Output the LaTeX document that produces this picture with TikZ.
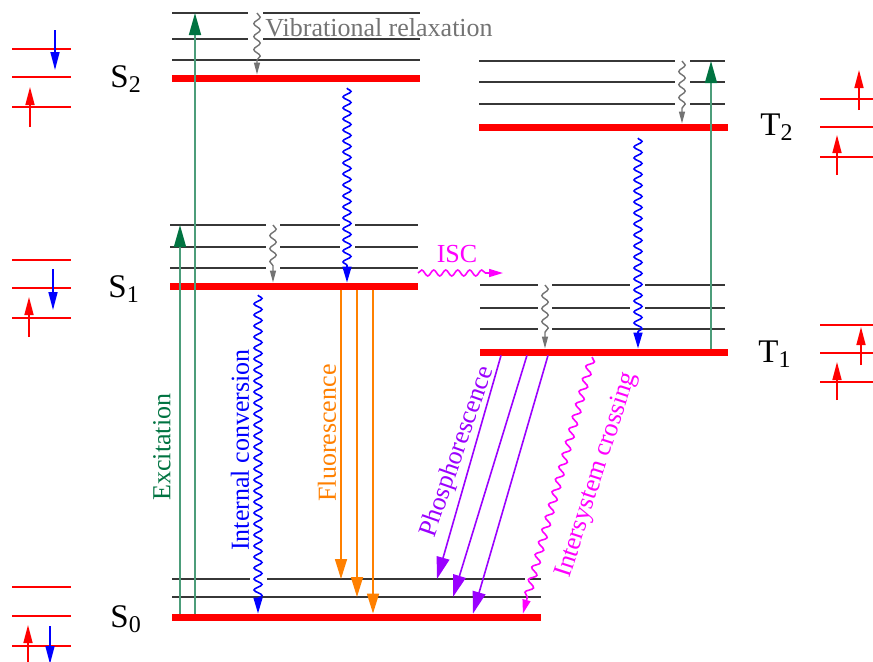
\documentclass[tikz,border=0pt]{standalone}
\usepackage{fontspec}
\setmainfont{Liberation Serif}
\usetikzlibrary{arrows.meta,decorations.pathmorphing,calc}

\definecolor{levelgray}{RGB}{55,55,55}
\definecolor{vibgray}{RGB}{115,115,115}
\definecolor{excgreen}{RGB}{0,115,65}
\definecolor{icblue}{RGB}{0,0,255}
\definecolor{fluoorange}{RGB}{255,128,0}
\definecolor{phosviolet}{RGB}{155,0,255}
\definecolor{iscmagenta}{RGB}{255,0,255}
\colorlet{zerored}{red}

\newcommand{\jlevel}[2]{#1\raisebox{-2.5pt}{\fontsize{12}{12}\selectfont #2}}

\tikzset{
  sublevel/.style={draw=levelgray, line width=1pt},
  zerolevel/.style={draw=zerored, line width=3.5pt},
  orbital/.style={draw=zerored, line width=0.8pt},
  spinup/.style={draw=zerored, line width=0.8pt, -{Triangle[length=9pt,width=4.5pt]}},
  spindown/.style={draw=icblue, line width=0.8pt, -{Triangle[length=9pt,width=4.5pt]}},
  excite/.style={draw=excgreen!70, line width=0.8pt,
    -{Triangle[length=11pt,width=6pt,color=excgreen]}},
  fluor/.style={draw=fluoorange, line width=0.8pt, -{Triangle[length=10pt,width=6pt]}},
  phos/.style={draw=phosviolet, line width=0.8pt, -{Triangle[length=11pt,width=6.5pt]}},
  relax/.style={draw=vibgray, line width=0.7pt, -{Triangle[length=6pt,width=3pt]},
    decorate, decoration={snake, amplitude=1.6pt, segment length=6.5pt, post length=7pt}},
  convert/.style={draw=icblue, line width=0.8pt, -{Triangle[length=8pt,width=4.5pt]},
    decorate, decoration={snake, amplitude=2pt, segment length=5.5pt, post length=9pt}},
  crossing/.style={draw=iscmagenta, line width=0.8pt, -{Triangle[length=7pt,width=4pt]},
    decorate, decoration={snake, amplitude=1.8pt, segment length=6.5pt, post length=8pt}},
  proclabel/.style={font=\fontsize{13}{15}\selectfont, inner sep=0pt},
  statelabel/.style={font=\fontsize{16.5}{18}\selectfont, inner sep=0pt, anchor=base west},
}

\begin{document}
\begin{tikzpicture}[x=0.5pt, y=-0.5pt]
  \useasboundingbox (0,0) rectangle (873,661);

  % left ends of the levels: zero-point (red) line and its vibrational sublevels
  \coordinate (S2v3) at (172,13);  \coordinate (S2v2) at (172,39);
  \coordinate (S2v1) at (172,60);  \coordinate (S2)   at (172,78);
  \coordinate (S1v3) at (170,225); \coordinate (S1v2) at (170,247);
  \coordinate (S1v1) at (170,268); \coordinate (S1)   at (170,286);
  \coordinate (S0v2) at (172,579); \coordinate (S0v1) at (172,597);
  \coordinate (S0)   at (172,617);
  \coordinate (T2v3) at (479,61);  \coordinate (T2v2) at (479,82);
  \coordinate (T2v1) at (479,104); \coordinate (T2)   at (479,127);
  \coordinate (T1v3) at (480,285); \coordinate (T1v2) at (480,308);
  \coordinate (T1v1) at (480,329); \coordinate (T1)   at (480,352);

  % singlet levels (gaps where the wavy arrows pass)
  \foreach \v in {S2v3,S2v2}
    \draw[sublevel] (\v) -- +(76,0) +(91,0) -- +(248,0);
  \draw[sublevel] (S2v1) -- +(248,0);
  \draw[zerolevel] (S2) -- +(248,0);
  \foreach \v in {S1v3,S1v2}
    \draw[sublevel] (\v) -- +(96,0) +(110,0) -- +(170,0) +(185,0) -- +(248,0);
  \draw[sublevel] (S1v1) -- +(96,0) +(110,0) -- +(248,0);
  \draw[zerolevel] (S1) -- +(248,0);
  \draw[sublevel] (S0v2) -- +(78,0) +(95,0) -- +(353,0) +(358,0) -- +(369,0);
  \draw[sublevel] (S0v1) -- +(369,0);
  \draw[zerolevel] (S0) -- +(369,0);

  % triplet levels
  \foreach \v in {T2v3,T2v2,T2v1}
    \draw[sublevel] (\v) -- +(196,0) +(211,0) -- +(246,0);
  \draw[zerolevel] (T2) -- +(249,0);
  \foreach \v in {T1v3,T1v2}
    \draw[sublevel] (\v) -- +(58,0) +(72,0) -- +(150,0) +(165,0) -- +(245,0);
  \draw[sublevel] (T1v1) -- +(58,0) +(72,0) -- +(245,0);
  \draw[zerolevel] (T1) -- +(248,0);

  % where the transitions run (x), wavy ones also give their start (y)
  \coordinate (exc1) at (180,0);  \coordinate (exc2) at (195,0);
  \coordinate (exc3) at (711,0);
  \coordinate (vr1) at (257,0);   \coordinate (vr2) at (273,0);
  \coordinate (vr3) at (682,0);   \coordinate (vr4) at (545,0);
  \coordinate (ic1) at (347,88);  \coordinate (ic2) at (638,138);
  \coordinate (ic3) at (258,295);
  \coordinate (fl1) at (341,0);   \coordinate (fl2) at (357,0);
  \coordinate (fl3) at (373,0);
  \coordinate (ph1) at (502,0);   \coordinate (ph1f) at (437,0);
  \coordinate (ph2) at (528,0);   \coordinate (ph2f) at (453,0);
  \coordinate (ph3) at (549,0);   \coordinate (ph3f) at (472,0);
  \coordinate (iscTop) at (592,357); \coordinate (iscFoot) at (522,0);
  \coordinate (iscA) at (418,273);   \coordinate (iscB) at (503,273);

  % excitation
  \draw[excite, shorten <=1.75pt] (exc1 |- S0) -- (exc1 |- S1v3);
  \draw[excite, shorten <=1.75pt] (exc2 |- S0) -- (exc2 |- S2v3);
  \draw[excite, shorten <=1.75pt] (exc3 |- T1) -- (exc3 |- T2v3);

  % vibrational relaxation
  \draw[relax, shorten >=1.75pt] (vr1 |- S2v3) -- (vr1 |- S2);
  \draw[relax, shorten >=1.75pt] (vr2 |- S1v3) -- (vr2 |- S1);
  \draw[relax, shorten >=1.75pt] (vr3 |- T2v3) -- (vr3 |- T2);
  \draw[relax, shorten >=1.75pt] (vr4 |- T1v3) -- (vr4 |- T1);

  % internal conversion
  \draw[convert, shorten >=1.75pt] (ic1) -- (ic1 |- S1);
  \draw[convert, shorten >=1.75pt] (ic2) -- (ic2 |- T1);
  \draw[convert, shorten >=1.75pt] (ic3) -- (ic3 |- S0);

  % fluorescence
  \draw[fluor, shorten <=1.75pt] (fl1 |- S1) -- (fl1 |- S0v2);
  \draw[fluor, shorten <=1.75pt] (fl2 |- S1) -- (fl2 |- S0v1);
  \draw[fluor, shorten <=1.75pt, shorten >=1.75pt] (fl3 |- S1) -- (fl3 |- S0);

  % phosphorescence
  \draw[phos, shorten <=1.75pt] (ph1 |- T1) -- (ph1f |- S0v2);
  \draw[phos, shorten <=1.75pt] (ph2 |- T1) -- (ph2f |- S0v1);
  \draw[phos, shorten <=1.75pt, shorten >=1.75pt] (ph3 |- T1) -- (ph3f |- S0);

  % intersystem crossing
  \draw[crossing, decoration={amplitude=1.5pt, segment length=6pt}] (iscA) -- (iscB);
  \draw[crossing, shorten >=1.75pt] (iscTop) -- (iscFoot |- S0);

  % process labels
  \node[proclabel, text=vibgray, anchor=base west] (vrLabel) at (265,36) {Vibrational relaxation};
  \node[proclabel, text=iscmagenta, anchor=base] (iscLabel) at (457,262) {ISC};
  \node[proclabel, text=excgreen, rotate=90] (excLabel) at (162,447) {Excitation};
  \node[proclabel, text=icblue, rotate=90] (icLabel) at (240,450) {Internal conversion};
  \node[proclabel, text=fluoorange, rotate=90] (flLabel) at (327,433) {Fluorescence};
  \node[proclabel, text=phosviolet, rotate=70.6] (phLabel) at (458,452) {Phosphorescence};
  \node[proclabel, text=iscmagenta, rotate=72] (xLabel) at (597,475) {Intersystem crossing};

  % state labels
  \node[statelabel] (S2Label) at (110,87)  {\jlevel{S}{2}};
  \node[statelabel] (S1Label) at (108,297) {\jlevel{S}{1}};
  \node[statelabel] (S0Label) at (110,627) {\jlevel{S}{0}};
  \node[statelabel] (T2Label) at (760,135) {\jlevel{T}{2}};
  \node[statelabel] (T1Label) at (758,362) {\jlevel{T}{1}};

  % orbital occupation sketches
  \foreach \y in {49,77,107,260,288,318,587,616,646}
    \draw[orbital] (12,\y) -- (71,\y);
  \foreach \y in {99,127,157,325,353,382}
    \draw[orbital] (820,\y) -- (873,\y);
  \foreach \x/\ya/\yb in {30/127/87, 29/337/297, 28/666/625,
                          859/110/70, 837/175/135, 861/365/327, 837/400/362}
    \draw[spinup] (\x,\ya) -- (\x,\yb);
  \foreach \x/\ya/\yb in {55/30/70, 53/269/310, 50/626/664}
    \draw[spindown] (\x,\ya) -- (\x,\yb);
\end{tikzpicture}
\end{document}
